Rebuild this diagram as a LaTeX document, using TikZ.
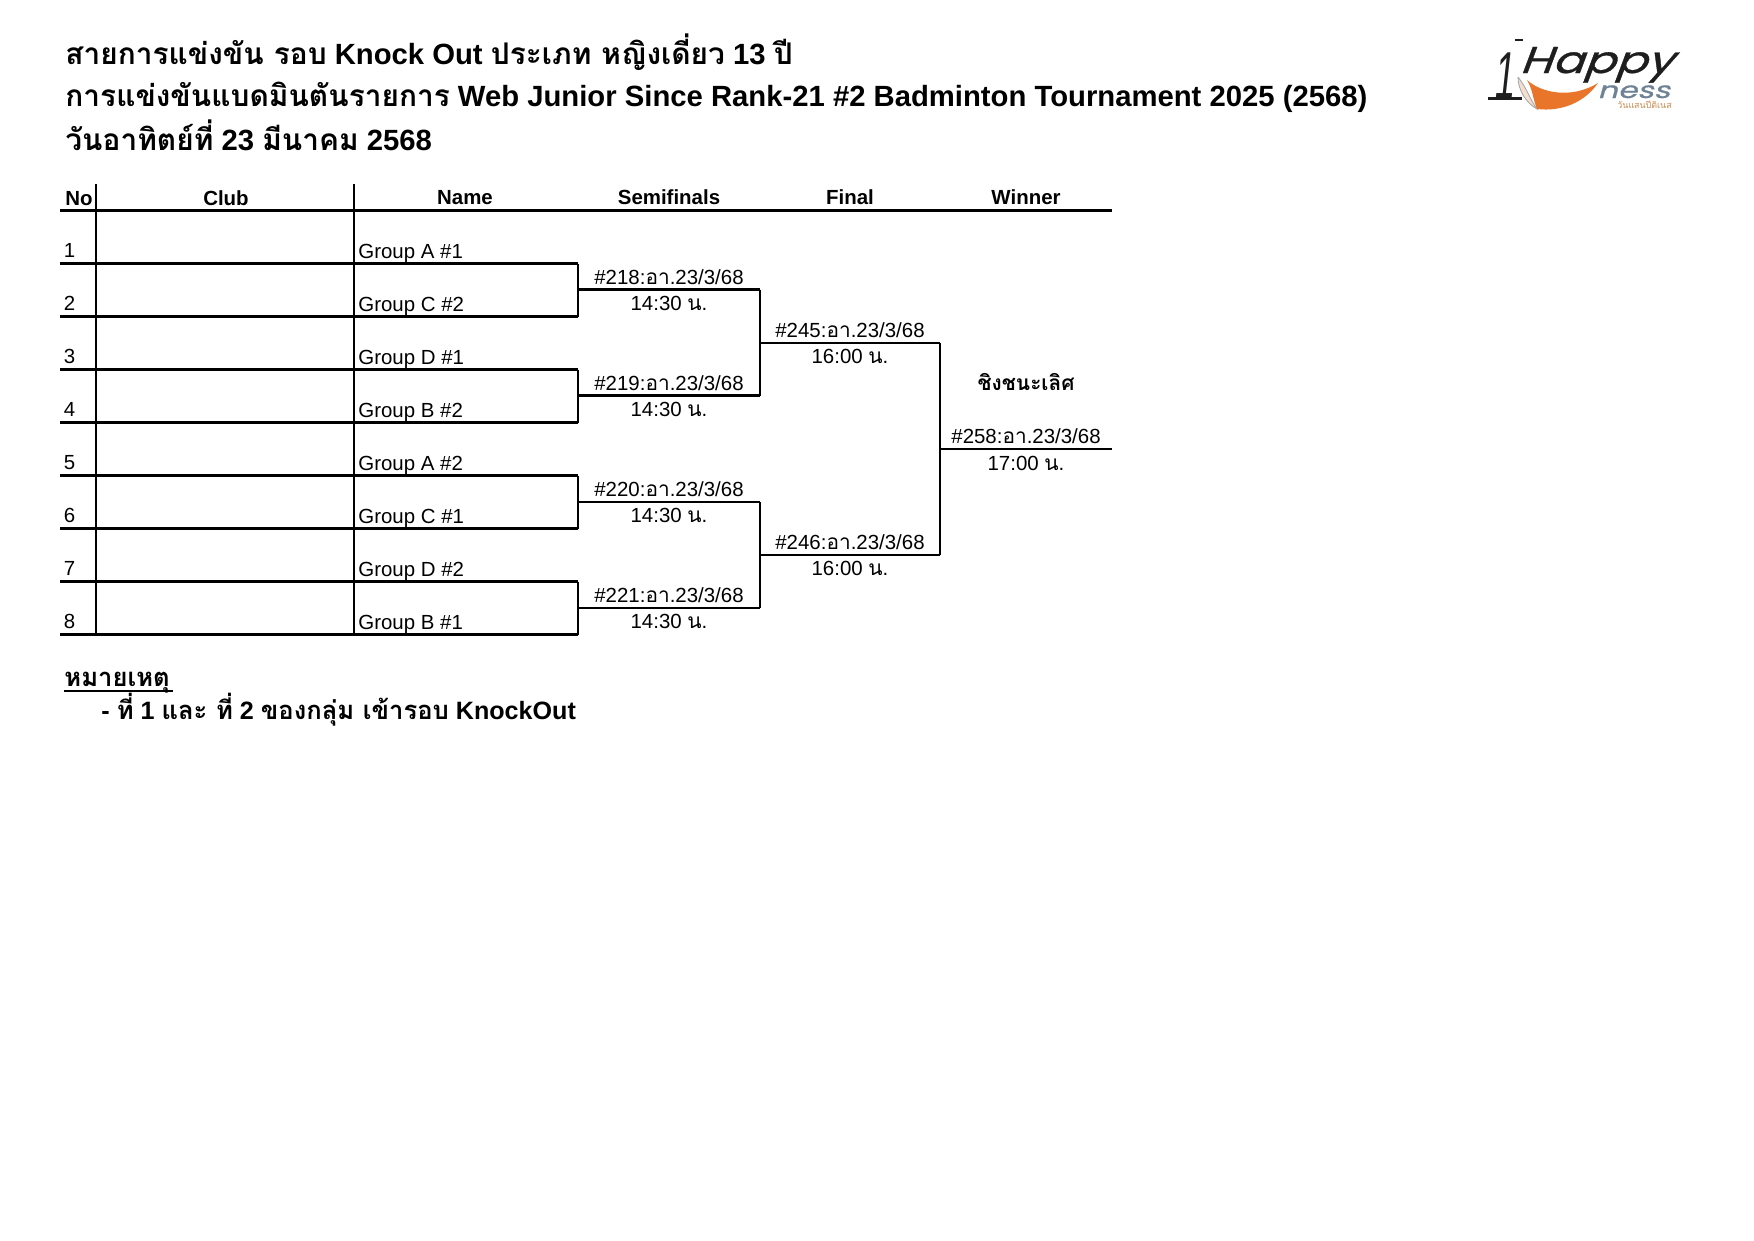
\documentclass[tikz,border=0pt]{standalone}
\usepackage{fontspec}
\setmainfont{Liberation Sans}
\newfontfamily\thaifont[Script=Thai,Scale=1.02]{Loma}
\newfontfamily\logofont[FakeBold=0.8]{Poppins}
\newcommand{\thai}[1]{{\thaifont #1}}
\definecolor{logoorange}{HTML}{E8752A}
\definecolor{logoink}{HTML}{1E1E1E}
\definecolor{logoslate}{HTML}{6F8295}
\definecolor{logobrown}{HTML}{C98A4E}
\definecolor{logopale}{HTML}{F3DFD0}

\begin{document}
\begin{tikzpicture}[x=0.016933cm,y=-0.016933cm,font=\fontsize{9.85}{12}\selectfont]
  \tikzstyle{rule}=[draw=black, line width=1pt]
  \tikzstyle{txt}=[inner sep=0pt, anchor=base west]
  \tikzstyle{mid}=[inner sep=0pt, anchor=base]
  \tikzstyle{head}=[mid, font=\fontsize{9.85}{12}\selectfont\bfseries]
  \tikzstyle{title}=[txt, font=\fontsize{14.1}{16}\selectfont\bfseries]
  \tikzstyle{remark}=[txt, font=\fontsize{12.1}{15}\selectfont\bfseries]
  \useasboundingbox (0,0) rectangle (1754,1240);

  % titles
  \node[title] (title1) at (65,64.5) {\thai{สายการแข่งขัน รอบ} Knock Out \thai{ประเภท หญิงเดี่ยว} 13 \thai{ปี}};
  \node[title] (title2) at (65,106.5) {\thai{การแข่งขันแบดมินตันรายการ} Web Junior Since Rank-21 \#2 Badminton Tournament 2025 (2568)};
  \node[title] (title3) at (65,150) {\thai{วันอาทิตย์ที่} 23 \thai{มีนาคม} 2568};

  % header row
  \node[txt, font=\fontsize{9.85}{12}\selectfont\bfseries] (headno) at (65,205.5) {No};
  \node[head] (headclub) at (226,205.5) {Club};
  \node[head] (headname) at (465,204.5) {Name};
  \node[head] (headsemi) at (669,204.5) {Semifinals};
  \node[head] (headfinal) at (850,204.5) {Final};
  \node[head] (headwin) at (1026,204.5) {Winner};
  \draw[rule] (60,210.5) -- (1111.5,210.5);
  \draw[rule] (96,184) -- (96,635);
  \draw[rule] (354,184) -- (354,635);

  % entries
  \foreach \n/\y/\grp in {1/263.5/Group A \#1,2/316.5/Group C \#2,3/369.5/Group D \#1,4/422.5/Group B \#2,5/475.5/Group A \#2,6/528.5/Group C \#1,7/581.5/Group D \#2,8/634.5/Group B \#1} {
    \coordinate (row\n) at (578,\y);
    \draw[rule] (60,\y) -- (row\n);
    \node[txt] (no\n) at (63.5,\y-6) {\n};
    \node[txt] (grp\n) at (358,\y-5) {\grp};
  }

  % semifinals
  \foreach \a/\b/\m/\y/\code in {1/2/a/289.5/218,3/4/b/395.5/219,5/6/c/502/220,7/8/d/608/221} {
    \coordinate (semi\m) at (578,\y);
    \coordinate (out\m) at (760,\y);
    \draw[rule] (row\a) -- (row\b);
    \draw[rule] (semi\m) -- (out\m);
    \node[mid] (code\m) at (669,\y-5.5) {\#\code:\thai{อา}.23/3/68};
    \node[mid] (time\m) at (669,\y+20.5) {14:30 \thai{น}.};
  }

  % finals
  \foreach \a/\b/\m/\y/\code in {a/b/e/343/245,c/d/f/555/246} {
    \coordinate (final\m) at (760,\y);
    \coordinate (out\m) at (940,\y);
    \draw[rule] (out\a) -- (out\b);
    \draw[rule] (final\m) -- (out\m);
    \node[mid] (code\m) at (850,\y-6) {\#\code:\thai{อา}.23/3/68};
    \node[mid] (time\m) at (850,\y+20.5) {16:00 \thai{น}.};
  }

  % winner
  \coordinate (champ) at (940,449);
  \coordinate (champend) at (1111.5,449);
  \draw[rule] (oute) -- (outf);
  \draw[rule] (champ) -- (champend);
  \node[mid] (codew) at (1026,443) {\#258:\thai{อา}.23/3/68};
  \node[mid] (timew) at (1026,470) {17:00 \thai{น}.};
  \node[head] (champlabel) at (1026,390) {\thai{ชิงชนะเลิศ}};

  % notes
  \node[remark] (note) at (64,686.5) {\thai{หมายเหตุ}};
  \draw[line width=0.9pt] (64,691) -- (173,691);
  \node[remark] (notetext) at (101,719) {- \thai{ที่} 1 \thai{และ ที่} 2 \thai{ของกลุ่ม เข้ารอบ} KnockOut};

  % logo
  \filldraw[draw=gray!70, fill=logopale, line width=0.4pt] (1518,77) .. controls (1518,90) and (1526,103) .. (1537,109)
    .. controls (1530,100) and (1528,90) .. (1518,77);
  \fill[logoorange] (1527,80) .. controls (1540,92) and (1570,100) .. (1598,83)
    .. controls (1585,102) and (1562,112) .. (1537,109) .. controls (1533,100) and (1533,90) .. (1527,80);
  \node[txt, font=\fontsize{18}{18}\selectfont\logofont, text=logoink, xscale=1.25, xslant=0.3] (logohappy) at (1519,73) {Happy};
  \node[txt, font=\fontsize{32}{32}\selectfont, text=logoink, xscale=0.55, xslant=0.2] (logoone) at (1493,98) {1};
  \draw[logoink, line width=1.7pt] (1488,98.5) -- (1522,98.5);
  \draw[logoink, line width=0.7pt] (1515,40) -- (1523,40);
  \node[txt, font=\fontsize{11}{11}\selectfont\logofont, text=logoslate, xscale=1.38, xslant=0.2] (logoness) at (1597,98) {ness};
  \node[txt, font=\fontsize{4.2}{5}\selectfont, text=logobrown] (logothai) at (1617,108) {\thai{วันแสนปีติเนส}};
\end{tikzpicture}
\end{document}
